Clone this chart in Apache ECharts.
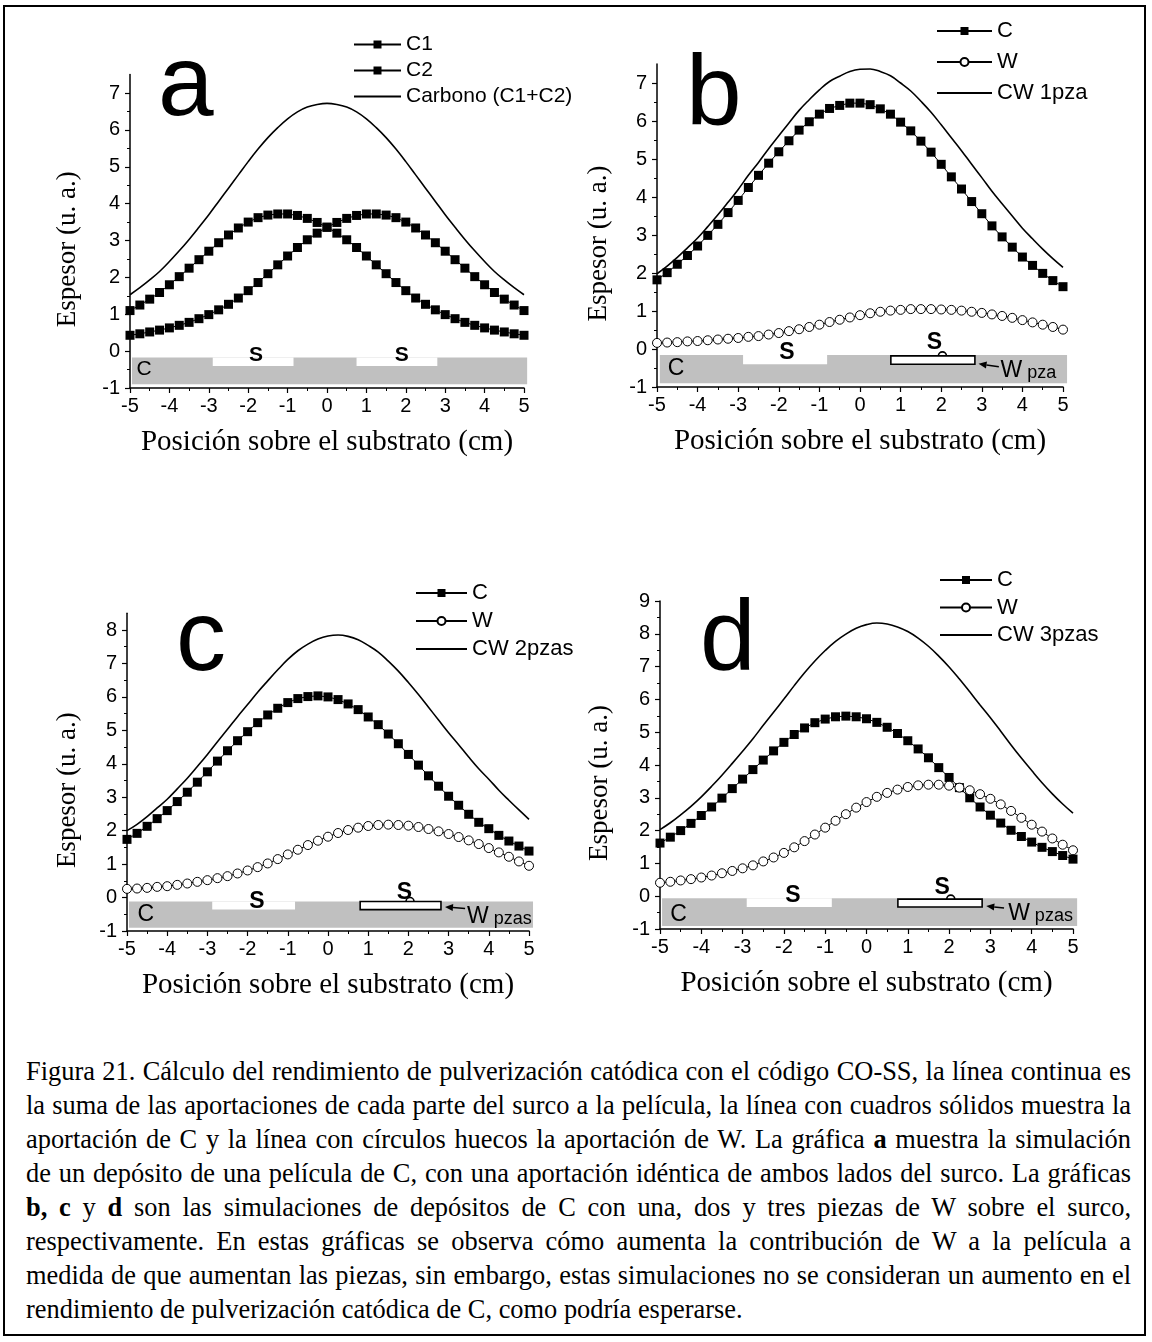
<!DOCTYPE html>
<html>
<head>
<meta charset="utf-8">
<title>Figura 21</title>
<script src="https://cdn.jsdelivr.net/npm/echarts@6/dist/echarts.min.js"></script>
<style>
    body { margin: 0; background: #fff; }
    #page { position: relative; width: 1152px; height: 1342px; overflow: hidden; }
    #frame { position: absolute; left: 3px; top: 5px; width: 1143px; height: 1331px; border: 2px solid #000; box-sizing: border-box; }
    #charts { position: absolute; left: 0; top: 0; width: 1152px; height: 1030px; }
    #caption { position: absolute; left: 26px; top: 1054px; width: 1105px; color: #000;
        font-family: "Liberation Serif", "Times New Roman", serif; font-size: 26.4px; line-height: 34px; }
    #caption span { display: block; white-space: nowrap; text-align: justify; text-align-last: justify; }
    #caption span.last { text-align-last: left; }
</style>
</head>
<body>
<div id="page">
    <div id="frame"></div>
    <div id="charts"></div>
    <div id="caption">
        <span>Figura 21. Cálculo del rendimiento de pulverización catódica con el código CO-SS, la línea continua es</span>
        <span>la suma de las aportaciones de cada parte del surco a la película, la línea con cuadros sólidos muestra la</span>
        <span>aportación de C y la línea con círculos huecos la aportación de W. La gráfica <b>a</b> muestra la simulación</span>
        <span>de un depósito de una película de C, con una aportación idéntica de ambos lados del surco. La gráficas</span>
        <span><b>b, c</b> y <b>d</b> son las simulaciones de depósitos de C con una, dos y tres piezas de W sobre el surco,</span>
        <span>respectivamente. En estas gráficas se observa cómo aumenta la contribución de W a la película a</span>
        <span>medida de que aumentan las piezas, sin embargo, estas simulaciones no se consideran un aumento en el</span>
        <span class="last">rendimiento de pulverización catódica de C, como podría esperarse.</span>
    </div>
</div>
<script>
// posiciones sobre el substrato (cm)
var xPos = [-5, -4.75, -4.5, -4.25, -4, -3.75, -3.5, -3.25, -3, -2.75, -2.5, -2.25, -2, -1.75, -1.5, -1.25, -1, -0.75, -0.5, -0.25,
    0, 0.25, 0.5, 0.75, 1, 1.25, 1.5, 1.75, 2, 2.25, 2.5, 2.75, 3, 3.25, 3.5, 3.75, 4, 4.25, 4.5, 4.75, 5];
var xTicks = [-5, -4, -3, -2, -1, 0, 1, 2, 3, 4, 5];
var yTicks7 = [-1, 0, 1, 2, 3, 4, 5, 6, 7];
var yTicks8 = [-1, 0, 1, 2, 3, 4, 5, 6, 7, 8];
var yTicks9 = [-1, 0, 1, 2, 3, 4, 5, 6, 7, 8, 9];

// a: carbono
var aC1 = [1.10, 1.25, 1.41, 1.59, 1.80, 2.02, 2.25, 2.48, 2.71, 2.94, 3.15, 3.34, 3.50, 3.62, 3.69, 3.72, 3.72, 3.68, 3.60, 3.49,
    3.36, 3.20, 3.02, 2.81, 2.58, 2.34, 2.10, 1.86, 1.64, 1.44, 1.27, 1.12, 0.99, 0.88, 0.78, 0.70, 0.63, 0.57, 0.52, 0.47, 0.43];
var aC2 = [0.43, 0.47, 0.52, 0.57, 0.63, 0.70, 0.78, 0.88, 0.99, 1.12, 1.27, 1.44, 1.64, 1.86, 2.10, 2.34, 2.58, 2.81, 3.02, 3.20,
    3.36, 3.49, 3.60, 3.68, 3.72, 3.72, 3.69, 3.62, 3.50, 3.34, 3.15, 2.94, 2.71, 2.48, 2.25, 2.02, 1.80, 1.59, 1.41, 1.25, 1.10];
var aCarbono = [1.53, 1.72, 1.93, 2.16, 2.43, 2.72, 3.03, 3.36, 3.70, 4.06, 4.42, 4.78, 5.14, 5.48, 5.79, 6.06, 6.30, 6.49, 6.62, 6.69,
    6.72, 6.69, 6.62, 6.49, 6.30, 6.06, 5.79, 5.48, 5.14, 4.78, 4.42, 4.06, 3.70, 3.36, 3.03, 2.72, 2.43, 2.16, 1.93, 1.72, 1.53];

// b: 1 pieza de W
var bC = [1.82, 2.01, 2.23, 2.46, 2.71, 2.99, 3.28, 3.59, 3.91, 4.25, 4.57, 4.89, 5.19, 5.48, 5.76, 5.98, 6.18, 6.33, 6.41, 6.47,
    6.47, 6.43, 6.32, 6.18, 5.97, 5.74, 5.47, 5.18, 4.86, 4.53, 4.21, 3.88, 3.56, 3.24, 2.95, 2.68, 2.42, 2.20, 1.99, 1.80, 1.64];
var bW = [0.16, 0.17, 0.18, 0.20, 0.21, 0.23, 0.25, 0.27, 0.29, 0.32, 0.34, 0.38, 0.42, 0.47, 0.52, 0.58, 0.64, 0.71, 0.77, 0.83,
    0.89, 0.94, 0.98, 1.01, 1.03, 1.05, 1.05, 1.05, 1.04, 1.03, 1.01, 0.98, 0.95, 0.91, 0.87, 0.82, 0.76, 0.70, 0.64, 0.58, 0.51];
var bCW = [1.98, 2.18, 2.41, 2.66, 2.92, 3.22, 3.53, 3.86, 4.20, 4.57, 4.91, 5.27, 5.61, 5.95, 6.28, 6.56, 6.82, 7.04, 7.18, 7.30,
    7.36, 7.37, 7.30, 7.19, 7.00, 6.79, 6.52, 6.23, 5.90, 5.56, 5.22, 4.86, 4.51, 4.15, 3.82, 3.50, 3.18, 2.90, 2.63, 2.38, 2.15];

// c: 2 piezas de W
var cC = [1.74, 1.92, 2.13, 2.36, 2.60, 2.87, 3.15, 3.45, 3.76, 4.08, 4.39, 4.69, 4.96, 5.23, 5.46, 5.66, 5.83, 5.95, 6.01, 6.03,
    6.00, 5.92, 5.79, 5.62, 5.40, 5.17, 4.89, 4.60, 4.28, 3.96, 3.64, 3.33, 3.03, 2.76, 2.49, 2.25, 2.06, 1.86, 1.69, 1.54, 1.39];
var cW = [0.26, 0.27, 0.29, 0.32, 0.34, 0.38, 0.42, 0.47, 0.52, 0.58, 0.64, 0.72, 0.81, 0.91, 1.02, 1.15, 1.29, 1.43, 1.57, 1.70,
    1.82, 1.93, 2.02, 2.09, 2.14, 2.17, 2.18, 2.17, 2.15, 2.11, 2.05, 1.98, 1.90, 1.81, 1.71, 1.60, 1.48, 1.35, 1.22, 1.08, 0.95];
var cCW = [2.00, 2.19, 2.42, 2.68, 2.94, 3.25, 3.57, 3.92, 4.28, 4.66, 5.03, 5.41, 5.77, 6.14, 6.48, 6.81, 7.12, 7.38, 7.58, 7.73,
    7.82, 7.85, 7.81, 7.71, 7.54, 7.34, 7.07, 6.77, 6.43, 6.07, 5.69, 5.31, 4.93, 4.57, 4.20, 3.85, 3.54, 3.21, 2.91, 2.62, 2.34];

// d: 3 piezas de W
var dC = [1.62, 1.80, 2.00, 2.22, 2.46, 2.72, 2.99, 3.28, 3.57, 3.86, 4.15, 4.43, 4.69, 4.93, 5.13, 5.29, 5.40, 5.47, 5.49, 5.47,
    5.41, 5.30, 5.15, 4.96, 4.74, 4.49, 4.22, 3.92, 3.62, 3.31, 3.00, 2.72, 2.47, 2.23, 2.01, 1.82, 1.65, 1.49, 1.36, 1.24, 1.13];
var dW = [0.41, 0.44, 0.48, 0.52, 0.57, 0.63, 0.70, 0.77, 0.85, 0.94, 1.06, 1.18, 1.32, 1.49, 1.68, 1.88, 2.09, 2.30, 2.50, 2.70,
    2.87, 3.03, 3.15, 3.25, 3.33, 3.38, 3.40, 3.40, 3.37, 3.31, 3.23, 3.11, 2.97, 2.80, 2.60, 2.39, 2.18, 1.97, 1.76, 1.57, 1.40];
var dCW = [2.03, 2.24, 2.48, 2.74, 3.03, 3.35, 3.69, 4.05, 4.42, 4.80, 5.21, 5.61, 6.01, 6.42, 6.81, 7.17, 7.49, 7.77, 7.99, 8.17,
    8.28, 8.33, 8.30, 8.21, 8.07, 7.87, 7.62, 7.32, 6.99, 6.62, 6.23, 5.83, 5.44, 5.03, 4.61, 4.21, 3.83, 3.46, 3.12, 2.81, 2.53];

// esquema del substrato en coordenadas de datos: [x0, x1, yArriba, yAbajo]
var aSketch = {
    band: [-4.95, 5.08, -0.17, -0.9],
    slots: [[-2.9, -0.85, -0.17, -0.4], [0.75, 2.8, -0.17, -0.4]],
    letters: [[-4.64, -0.5, 'C'], [-1.8, -0.11, 'S'], [1.9, -0.11, 'S']]
};
var bSketch = {
    band: [-4.93, 5.1, -0.16, -0.9],
    slots: [[-2.88, -0.81, -0.16, -0.4]],
    piece: [0.76, 2.83, -0.18, -0.4],
    bump: 2.03,
    letters: [[-4.53, -0.51, 'C'], [-1.8, -0.1, 'S'], [1.83, 0.16, 'S']],
    arrow: [3.42, -0.47, 2.92, -0.39],
    label: [3.46, -0.55, 'pza']
};
var cSketch = {
    band: [-4.95, 5.1, -0.12, -0.9],
    slots: [[-2.88, -0.82, -0.12, -0.36]],
    piece: [0.8, 2.81, -0.12, -0.36],
    bump: 2.04,
    letters: [[-4.53, -0.52, 'C'], [-1.77, -0.12, 'S'], [1.9, 0.15, 'S']],
    arrow: [3.41, -0.33, 2.91, -0.28],
    label: [3.46, -0.55, 'pzas']
};
var dSketch = {
    band: [-4.95, 5.1, -0.06, -0.91],
    slots: [[-2.9, -0.84, -0.06, -0.33]],
    piece: [0.76, 2.8, -0.09, -0.33],
    bump: 2.04,
    letters: [[-4.55, -0.56, 'C'], [-1.78, 0.03, 'S'], [1.83, 0.27, 'S']],
    arrow: [3.33, -0.36, 2.9, -0.3],
    label: [3.43, -0.52, 'pzas']
};

var SANS = '"Liberation Sans", Arial, sans-serif';
var SERIF = '"Liberation Serif", "Times New Roman", serif';

function pairs(ys) {
    return ys.map(function (y, i) {
        return [xPos[i], y];
    });
}

function rectOf(api, r, style) {
    var p0 = api.coord([r[0], r[2]]);
    var p1 = api.coord([r[1], r[3]]);
    return {type: 'rect', shape: {x: p0[0], y: p0[1], width: p1[0] - p0[0], height: p1[1] - p0[1]}, style: style};
}

// dibuja el surco, las zonas S y la pieza de W
function sketchRenderer(sk, letterSize) {
    return function (params, api) {
        var children = [];
        children.push(rectOf(api, sk.band, {fill: '#c0c0c0'}));
        sk.slots.forEach(function (s) {
            children.push(rectOf(api, s, {fill: '#fff'}));
        });
        if (sk.piece) {
            children.push(rectOf(api, sk.piece, {fill: '#fff', stroke: '#000', lineWidth: 1.6}));
            var b = api.coord([sk.bump, sk.piece[2]]);
            children.push({type: 'arc', shape: {cx: b[0], cy: b[1], r: 4, startAngle: Math.PI, endAngle: Math.PI * 2},
                style: {stroke: '#000', lineWidth: 1.6, fill: null}});
        }
        sk.letters.forEach(function (l) {
            var p = api.coord([l[0], l[1]]);
            children.push({type: 'text', x: p[0], y: p[1], style: {
                text: l[2], fill: '#000', align: 'center', verticalAlign: 'middle',
                font: (l[2] === 'S' ? 'bold ' : '') + letterSize + 'px ' + SANS
            }});
        });
        if (sk.arrow) {
            var t = api.coord([sk.arrow[0], sk.arrow[1]]);
            var h = api.coord([sk.arrow[2], sk.arrow[3]]);
            var dx = t[0] - h[0], dy = t[1] - h[1];
            var len = Math.sqrt(dx * dx + dy * dy);
            var ux = dx / len, uy = dy / len;
            var bx = h[0] + ux * 8, by = h[1] + uy * 8;
            children.push({type: 'line', shape: {x1: t[0], y1: t[1], x2: bx, y2: by}, style: {stroke: '#000', lineWidth: 1.5}});
            children.push({type: 'polygon', shape: {points: [[h[0], h[1]], [bx - uy * 3.5, by + ux * 3.5], [bx + uy * 3.5, by - ux * 3.5]]},
                style: {fill: '#000'}});
            var q = api.coord([sk.label[0], sk.label[1]]);
            children.push({type: 'text', x: q[0], y: q[1], style: {
                text: '{w|W}{s| ' + sk.label[2] + '}', align: 'left', verticalAlign: 'middle',
                rich: {
                    w: {fontFamily: SANS, fontSize: 23, fill: '#000', verticalAlign: 'bottom', lineHeight: 24},
                    s: {fontFamily: SANS, fontSize: 18, fill: '#000', verticalAlign: 'bottom', lineHeight: 24}
                }
            }});
        }
        return {type: 'group', children: children};
    };
}

function xAxisFor(i) {
    return {
        type: 'value', gridIndex: i, min: -5, max: 5, interval: 1,
        name: 'Posición sobre el substrato (cm)', nameLocation: 'middle', nameGap: 40,
        nameTextStyle: {fontFamily: SERIF, fontSize: 29, color: '#000'},
        axisLine: {onZero: false, lineStyle: {color: '#000', width: 1.5}},
        axisTick: {show: true, length: 5, customValues: xTicks, lineStyle: {color: '#000', width: 1.2}},
        minorTick: {show: true, splitNumber: 2, length: 3, lineStyle: {color: '#000', width: 1}},
        axisLabel: {fontFamily: SANS, fontSize: 20, color: '#000', margin: 8, customValues: xTicks},
        splitLine: {show: false}
    };
}

function yAxisFor(i, max, ticks, gap) {
    return {
        type: 'value', gridIndex: i, min: -1, max: max, interval: 1,
        name: 'Espesor (u. a.)', nameLocation: 'middle', nameGap: gap,
        nameTextStyle: {fontFamily: SERIF, fontSize: 27, color: '#000', padding: [0, 36, 0, 0]},
        axisLine: {show: true, onZero: false, lineStyle: {color: '#000', width: 1.5}},
        axisTick: {show: true, length: 5, customValues: ticks, lineStyle: {color: '#000', width: 1.2}},
        minorTick: {show: true, splitNumber: 2, length: 3, lineStyle: {color: '#000', width: 1}},
        axisLabel: {fontFamily: SANS, fontSize: 20, color: '#000', margin: 10, customValues: ticks},
        splitLine: {show: false}
    };
}

function squares(name, ys, i) {
    return {
        name: name, type: 'line', xAxisIndex: i, yAxisIndex: i, data: pairs(ys),
        symbol: 'rect', symbolSize: 9, z: 3,
        itemStyle: {color: '#000'},
        lineStyle: {color: '#000', width: 1}
    };
}

function circles(name, ys, i) {
    return {
        name: name, type: 'line', xAxisIndex: i, yAxisIndex: i, data: pairs(ys),
        symbol: 'circle', symbolSize: 9, z: 3,
        itemStyle: {color: '#fff', borderColor: '#000', borderWidth: 1},
        lineStyle: {color: '#000', width: 1}
    };
}

function total(name, ys, i) {
    return {
        name: name, type: 'line', xAxisIndex: i, yAxisIndex: i, data: pairs(ys),
        symbol: 'none', smooth: 0.4, z: 4,
        itemStyle: {color: 'rgba(0,0,0,0)'},
        lineStyle: {color: '#000', width: 1.6}
    };
}

function sketch(sk, i, size) {
    return {
        type: 'custom', xAxisIndex: i, yAxisIndex: i, data: [[0, 0]], z: 1, silent: true,
        renderItem: sketchRenderer(sk, size)
    };
}

// la tercera entrada es la suma, sin símbolo en la leyenda
function legendFor(names, left, top, width, size, gap) {
    return {
        data: [names[0], names[1], {name: names[2], itemStyle: {opacity: 0}}],
        orient: 'vertical', left: left, top: top, selectedMode: false,
        itemWidth: width, itemHeight: 10, itemGap: gap,
        textStyle: {fontFamily: SANS, fontSize: size, color: '#000', lineHeight: size}
    };
}

function panelLetter(text, x, y) {
    return {type: 'text', x: x, y: y, silent: true,
        style: {text: text, font: '100px ' + SANS, fill: '#000', align: 'left', verticalAlign: 'middle'}};
}

var chart = echarts.init(document.getElementById('charts'), null, {renderer: 'canvas'});

var option = {
    animation: false,
    backgroundColor: 'transparent',
    grid: [
        {left: 130, top: 74.6, width: 394, height: 313.4},
        {left: 657, top: 64, width: 406, height: 323},
        {left: 127, top: 613.3, width: 402, height: 317.7},
        {left: 660, top: 601, width: 413, height: 328}
    ],
    xAxis: [xAxisFor(0), xAxisFor(1), xAxisFor(2), xAxisFor(3)],
    yAxis: [
        yAxisFor(0, 7.5, yTicks7, 49),
        yAxisFor(1, 7.5, yTicks7, 45),
        yAxisFor(2, 8.5, yTicks8, 46),
        yAxisFor(3, 9, yTicks9, 47)
    ],
    legend: [
        legendFor(['C1', 'C2', 'Carbono (C1+C2)'], 348, 29, 47, 21, 5),
        legendFor(['C', 'W', 'CW 1pza'], 931, 15, 55, 22, 9),
        legendFor(['C', 'W', 'CW 2pzas'], 410, 577, 51, 22, 6),
        legendFor(['C', 'W', 'CW 3pzas'], 934, 564, 52, 22, 5.5)
    ],
    graphic: [
        panelLetter('a', 158, 87),
        panelLetter('b', 686, 97),
        panelLetter('c', 176, 642),
        panelLetter('d', 700, 642)
    ],
    series: [
        sketch(aSketch, 0, 21),
        squares('C1', aC1, 0),
        squares('C2', aC2, 0),
        total('Carbono (C1+C2)', aCarbono, 0),

        sketch(bSketch, 1, 23),
        squares('C', bC, 1),
        circles('W', bW, 1),
        total('CW 1pza', bCW, 1),

        sketch(cSketch, 2, 23),
        squares('C', cC, 2),
        circles('W', cW, 2),
        total('CW 2pzas', cCW, 2),

        sketch(dSketch, 3, 23),
        squares('C', dC, 3),
        circles('W', dW, 3),
        total('CW 3pzas', dCW, 3)
    ]
};

chart.setOption(option);
</script>
</body>
</html>
